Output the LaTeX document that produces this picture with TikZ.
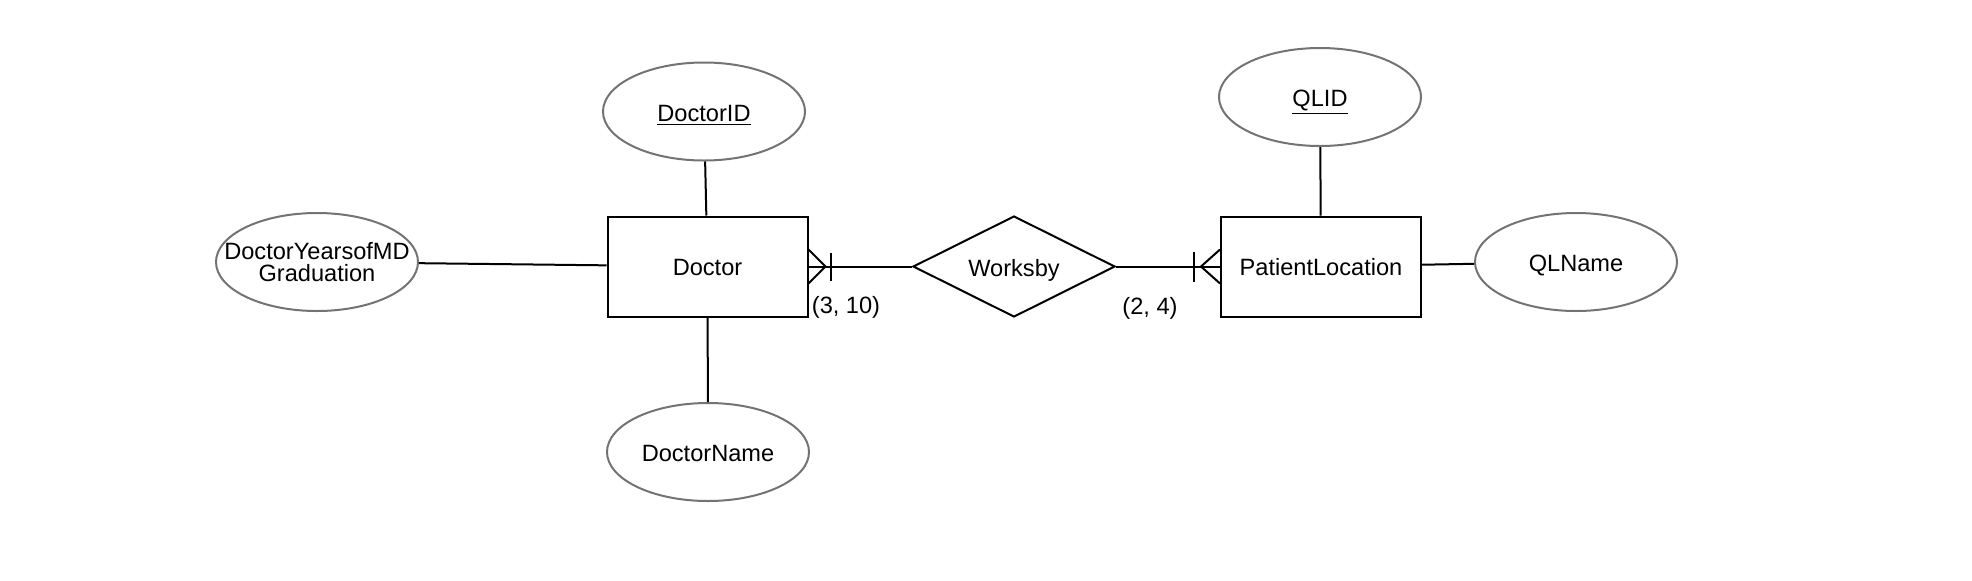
\documentclass[tikz,border=0pt]{standalone}
\usepackage{fontspec}
\setmainfont{Liberation Sans}
\usetikzlibrary{shapes.geometric,calc}
\begin{document}
\begin{tikzpicture}[x=0.5pt,y=-0.5pt,
    font=\fontsize{11.8}{11.2}\selectfont,
    entity/.style={draw,line width=1pt,minimum width=100pt,minimum height=50pt,inner sep=0pt,text height=9.2pt,text depth=0pt},
    attr/.style={ellipse,draw=black!55,line width=1pt,minimum width=101pt,minimum height=49pt,inner sep=0pt,align=center,text height=9.5pt,text depth=0pt},
    rel/.style={diamond,draw,line width=1pt,minimum width=101pt,minimum height=50.5pt,inner sep=0pt,aspect=2,text height=9.7pt,text depth=0pt},
    conn/.style={line width=1pt}]
      \useasboundingbox (0,0) rectangle (1972,580);
      \node[entity](doc) at (707.5,266.5){Doctor};
      \node[entity](pl) at (1321,266.5){PatientLocation};
      \node[rel](wb) at (1014,266.5){Worksby};
      \node[attr](did) at (704,111.5){\underline{DoctorID}};
      \node[attr](dnm) at (708,452){DoctorName};
      \node[attr,text height=21pt,text depth=1.5pt](dyg) at (317,262){\makebox[0pt]{DoctorYearsofMD}\\\makebox[0pt]{Graduation}};
      \node[attr](qid) at (1320,97){\underline{QLID}};
      \node[attr](qln) at (1576,262){QLName};
      \draw[conn](did)--(doc);
      \draw[conn](doc)--(dnm);
      \draw[conn](dyg)--(doc);
      \draw[conn](qid)--(pl);
      \draw[conn](pl)--(qln);
      \draw[conn](doc)--(wb)--(pl);
      % crow's feet
      \draw[conn]($(doc.east)+(0,-17)$)--++(17,17)--++(-17,17);
      \draw[conn]($(doc.east)+(22,-14)$)--++(0,28);
      \draw[conn]($(pl.west)+(0,-17)$)--++(-19,17)--++(19,17);
      \draw[conn]($(pl.west)+(-26,-15)$)--++(0,30);
      \node(cd) at (846,307){(3, 10)};
      \node(cp) at (1150,308){(2, 4)};
\end{tikzpicture}
\end{document}
